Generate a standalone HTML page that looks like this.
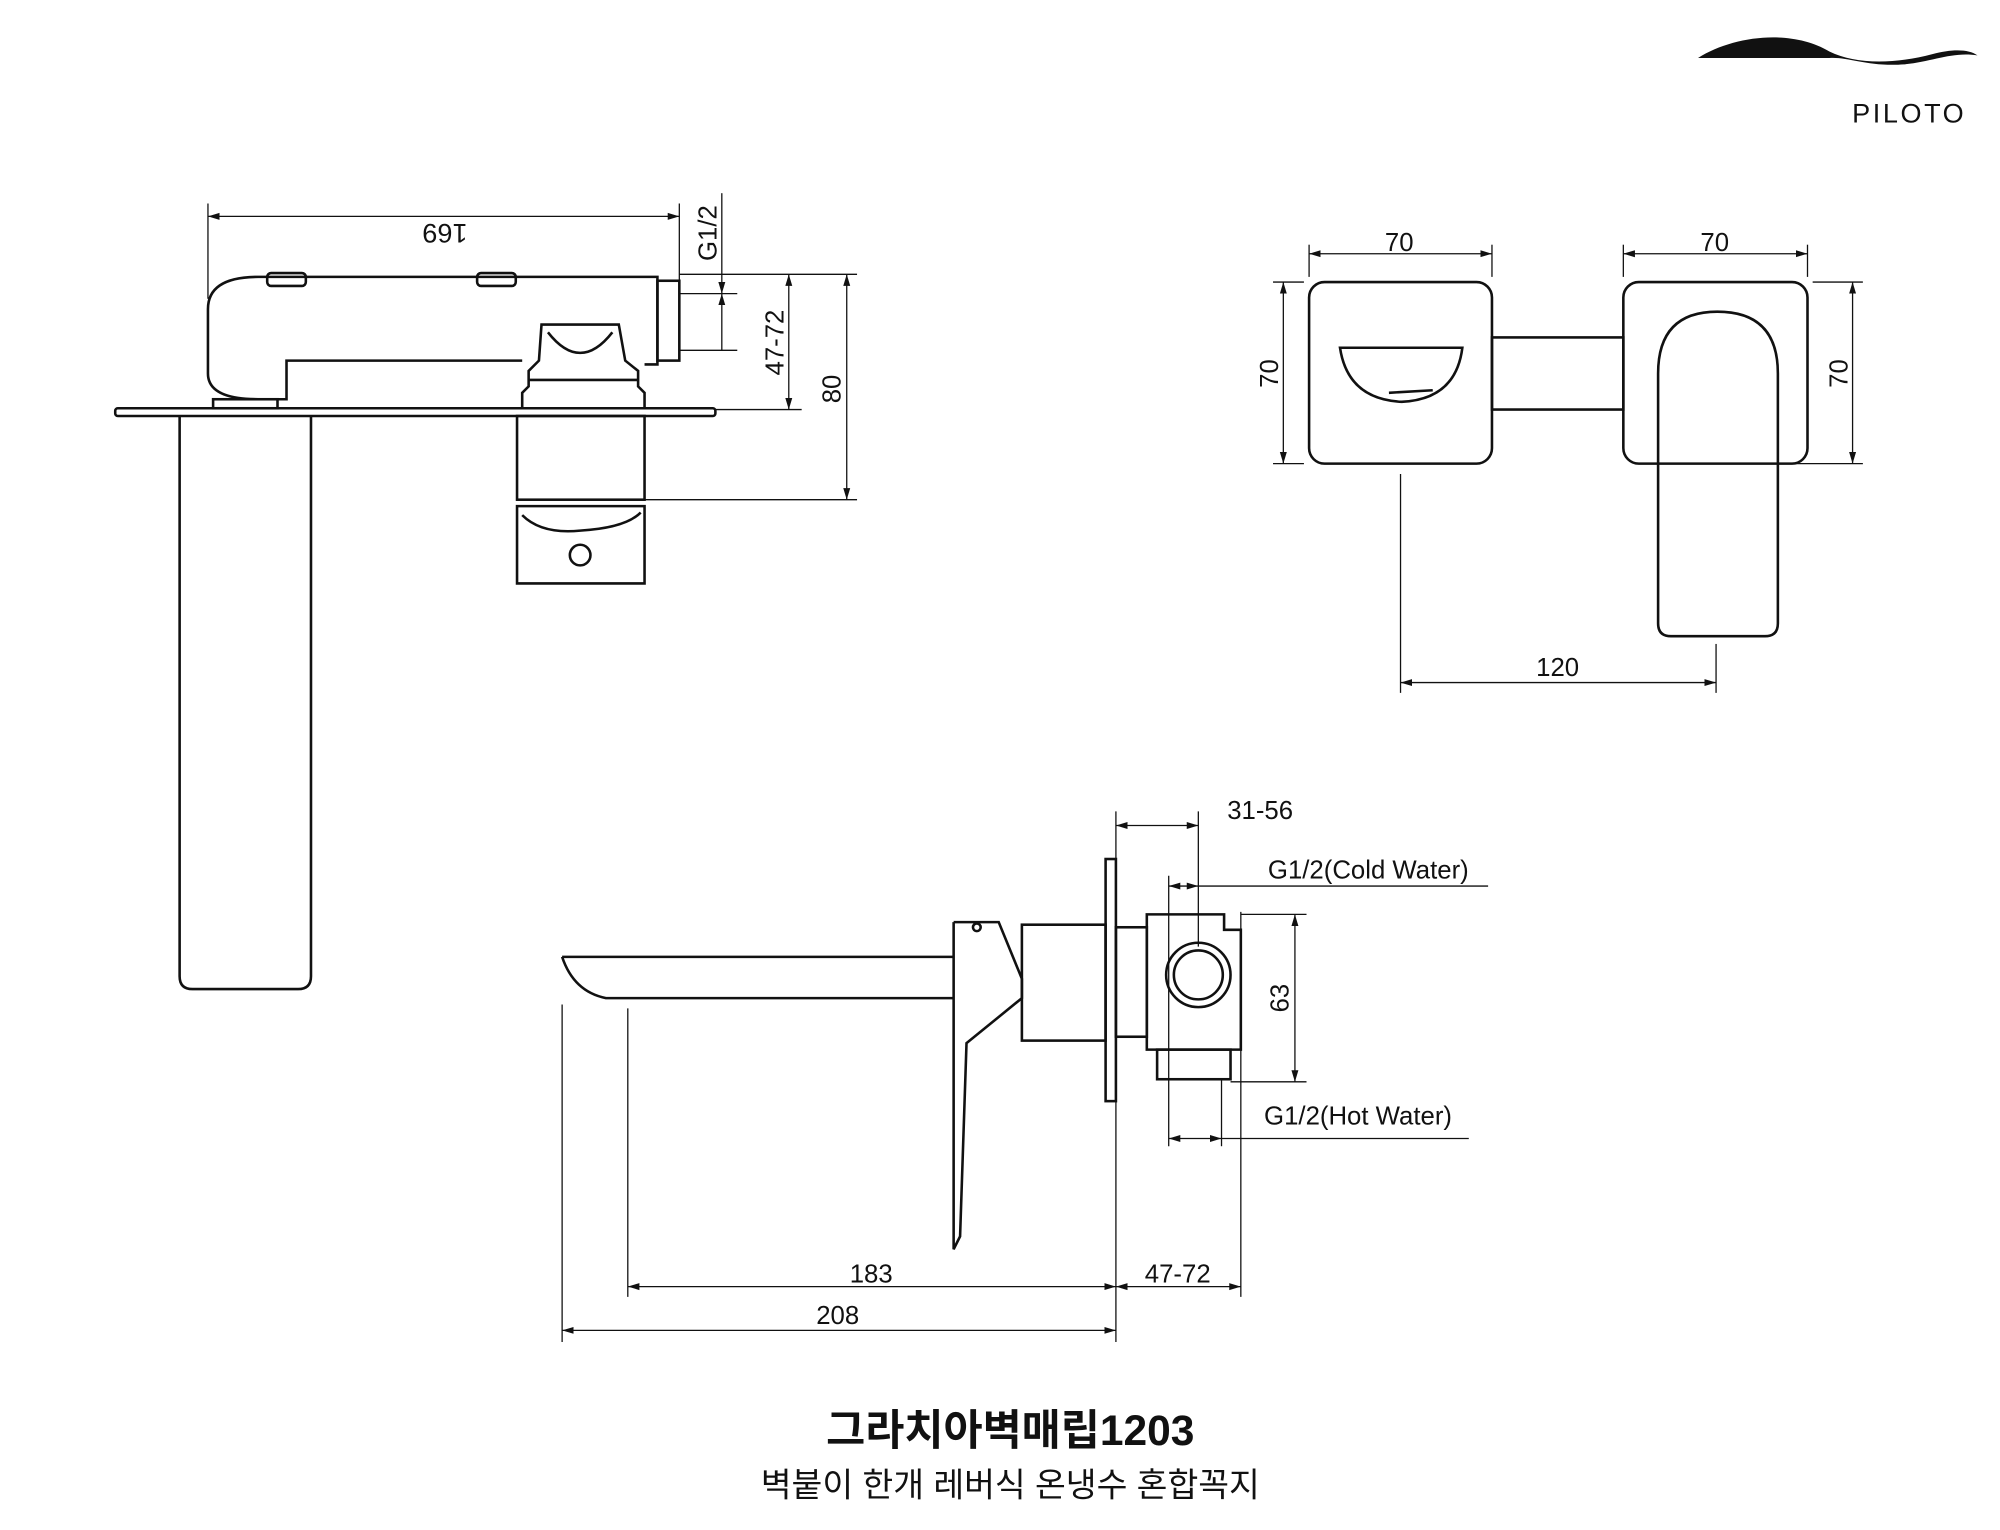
<!DOCTYPE html>
<html><head><meta charset="utf-8">
<style>
html,body{margin:0;padding:0;background:#fff;}
svg{display:block;}
text{font-family:"Liberation Sans","Noto Sans CJK KR",sans-serif;fill:#111;}
</style></head>
<body>
<svg width="2000" height="1530" viewBox="0 0 1552 1188" xmlns="http://www.w3.org/2000/svg">
<defs>
<marker id="a" viewBox="0 0 10 10" refX="10" refY="5" markerWidth="9" markerHeight="9" orient="auto-start-reverse" markerUnits="userSpaceOnUse"><path d="M0,2 L10,5 L0,8 z" fill="#111"/></marker>
</defs>
<rect width="1552" height="1188" fill="#fff"/>

<!-- logo -->
<path d="M1318,45 C1345,28 1390,22 1420,40 C1440,50 1470,50 1500,42 C1515,38 1528,38 1535,43 C1515,40 1500,48 1478,50 C1450,52 1435,44 1420,45 Z" fill="#111"/>
<text x="1482" y="95" font-size="21" text-anchor="middle" letter-spacing="2">PILOTO</text>

<g stroke="#111" fill="none" stroke-width="1">
<line x1="161" y1="158" x2="161" y2="232"/>
<line x1="527" y1="158" x2="527" y2="218"/>
<line x1="161" y1="168" x2="527" y2="168" marker-start="url(#a)" marker-end="url(#a)"/>
<line x1="560" y1="150" x2="560" y2="228" marker-end="url(#a)"/>
<line x1="560" y1="272" x2="560" y2="228" marker-end="url(#a)"/>
<line x1="527" y1="228" x2="572" y2="228"/>
<line x1="527" y1="272" x2="572" y2="272"/>
<line x1="527" y1="213" x2="665" y2="213"/>
<line x1="555" y1="318" x2="622" y2="318"/>
<line x1="500" y1="388" x2="665" y2="388"/>
<line x1="612" y1="213" x2="612" y2="318" marker-start="url(#a)" marker-end="url(#a)"/>
<line x1="657" y1="213" x2="657" y2="388" marker-start="url(#a)" marker-end="url(#a)"/>
</g>
<text x="345" y="190" font-size="21" text-anchor="middle" transform="rotate(180 345 182)">169</text>
<text font-size="20" text-anchor="middle" transform="translate(556 181) rotate(-90)">G1/2</text>
<text font-size="20" text-anchor="middle" transform="translate(608 266) rotate(-90)">47-72</text>
<text font-size="20" text-anchor="middle" transform="translate(652 302) rotate(-90)">80</text>

<g stroke="#111" fill="none" stroke-width="2">
<path d="M405,280 L222,280 L222,310 L200,310 Q161,310 161,290 L161,240 Q161,215 200,215 L510,215 L510,252"/>
<path d="M500,283 L510,283 L510,252"/>
<rect x="510" y="218" width="17" height="62"/>
<rect x="207" y="212" width="30" height="10" rx="3"/>
<rect x="370" y="212" width="30" height="10" rx="3"/>
<rect x="89" y="317" width="466" height="6" rx="2"/>
<rect x="165" y="310" width="50" height="7"/>
<path d="M139,323 L139,758 Q139,768 149,768 L231,768 Q241,768 241,758 L241,323"/>
<path d="M420,252 L480,252 L485,280 L495,288 L495,300 L500,305 L500,317 L405,317 L405,305 L410,300 L410,288 L418,280 Z"/>
<path d="M425,258 Q450,290 475,258"/>
<line x1="410" y1="295" x2="495" y2="295"/>
<rect x="401" y="323" width="99" height="65"/>
<path d="M401,393 L500,393 L500,453 L401,453 Z"/>
<path d="M405,400 Q420,415 450,412 Q485,410 497,398"/>
<circle cx="450" cy="431" r="8"/>

<rect x="1016" y="219" width="142" height="141" rx="12"/>
<path d="M1040,270 L1135,270 Q1130,310 1088,312 Q1046,310 1040,270 Z"/>
<path d="M1078,305 L1112,303"/>
<rect x="1158" y="262" width="102" height="56"/>
<rect x="1260" y="219" width="143" height="141" rx="12"/>
<path d="M1287,290 Q1287,242 1333,242 Q1380,242 1380,290 L1380,484 Q1380,494 1370,494 L1297,494 Q1287,494 1287,484 Z"/>
</g>
<g stroke="#111" fill="none" stroke-width="1">
<line x1="1016" y1="190" x2="1016" y2="215"/><line x1="1158" y1="190" x2="1158" y2="215"/>
<line x1="1016" y1="197" x2="1158" y2="197" marker-start="url(#a)" marker-end="url(#a)"/>
<line x1="1260" y1="190" x2="1260" y2="215"/><line x1="1403" y1="190" x2="1403" y2="215"/>
<line x1="1260" y1="197" x2="1403" y2="197" marker-start="url(#a)" marker-end="url(#a)"/>
<line x1="988" y1="219" x2="1012" y2="219"/><line x1="988" y1="360" x2="1012" y2="360"/>
<line x1="996" y1="219" x2="996" y2="360" marker-start="url(#a)" marker-end="url(#a)"/>
<line x1="1407" y1="219" x2="1446" y2="219"/><line x1="1380" y1="360" x2="1446" y2="360"/>
<line x1="1438" y1="219" x2="1438" y2="360" marker-start="url(#a)" marker-end="url(#a)"/>
<line x1="1087" y1="368" x2="1087" y2="538"/><line x1="1332" y1="500" x2="1332" y2="538"/>
<line x1="1087" y1="530" x2="1332" y2="530" marker-start="url(#a)" marker-end="url(#a)"/>
</g>
<text x="1086" y="195" font-size="20" text-anchor="middle">70</text>
<text x="1331" y="195" font-size="20" text-anchor="middle">70</text>
<text font-size="20" text-anchor="middle" transform="translate(992 290) rotate(-90)">70</text>
<text font-size="20" text-anchor="middle" transform="translate(1434 290) rotate(-90)">70</text>
<text x="1209" y="525" font-size="20" text-anchor="middle">120</text>

<g stroke="#111" fill="none" stroke-width="2">
<path d="M436,743 L740,743 M436,743 Q445,770 470,775 L487,775 L740,775"/>
<path d="M740,716 L775,716 L793,760 L793,775 L750,810 L745,960 L740,970 L740,716"/>
<circle cx="758" cy="720" r="3"/>
<rect x="793" y="718" width="65" height="90"/>
<rect x="858" y="667" width="8" height="188"/>
<rect x="866" y="720" width="24" height="85"/>
<path d="M890,710 L950,710 L950,722 L963,722 L963,815 L890,815 Z"/>
<circle cx="930" cy="757" r="25"/>
<circle cx="930" cy="757" r="19"/>
<rect x="898" y="815" width="57" height="23"/>
</g>
<g stroke="#111" fill="none" stroke-width="1">
<line x1="436" y1="780" x2="436" y2="1042"/>
<line x1="487" y1="783" x2="487" y2="1007"/>
<line x1="866" y1="630" x2="866" y2="1042"/>
<line x1="963" y1="708" x2="963" y2="1007"/>
<line x1="930" y1="630" x2="930" y2="735"/>
<line x1="907" y1="680" x2="907" y2="890"/>
<line x1="948" y1="838" x2="948" y2="890"/>
<line x1="866" y1="641" x2="930" y2="641" marker-start="url(#a)" marker-end="url(#a)"/>
<line x1="907" y1="688" x2="930" y2="688" marker-start="url(#a)" marker-end="url(#a)"/>
<line x1="930" y1="688" x2="1155" y2="688"/>
<line x1="963" y1="710" x2="1014" y2="710"/><line x1="955" y1="840" x2="1014" y2="840"/>
<line x1="1005" y1="710" x2="1005" y2="840" marker-start="url(#a)" marker-end="url(#a)"/>
<line x1="907" y1="884" x2="948" y2="884" marker-start="url(#a)" marker-end="url(#a)"/>
<line x1="948" y1="884" x2="1140" y2="884"/>
<line x1="487" y1="999" x2="866" y2="999" marker-start="url(#a)" marker-end="url(#a)"/>
<line x1="866" y1="999" x2="963" y2="999" marker-start="url(#a)" marker-end="url(#a)"/>
<line x1="436" y1="1033" x2="866" y2="1033" marker-start="url(#a)" marker-end="url(#a)"/>
</g>
<text x="978" y="636" font-size="20" text-anchor="middle">31-56</text>
<text x="1062" y="682" font-size="20" text-anchor="middle">G1/2(Cold Water)</text>
<text font-size="20" text-anchor="middle" transform="translate(1000 775) rotate(-90)">63</text>
<text x="1054" y="873" font-size="20" text-anchor="middle">G1/2(Hot Water)</text>
<text x="676" y="996" font-size="20" text-anchor="middle">183</text>
<text x="914" y="996" font-size="20" text-anchor="middle">47-72</text>
<text x="650" y="1028" font-size="20" text-anchor="middle">208</text>

<text x="784" y="1122" font-size="33" font-weight="bold" text-anchor="middle" fill="#333">그라치아벽매립1203</text>
<text x="784" y="1162" font-size="26" text-anchor="middle" fill="#555">벽붙이 한개 레버식 온냉수 혼합꼭지</text>
</svg>
</body></html>
